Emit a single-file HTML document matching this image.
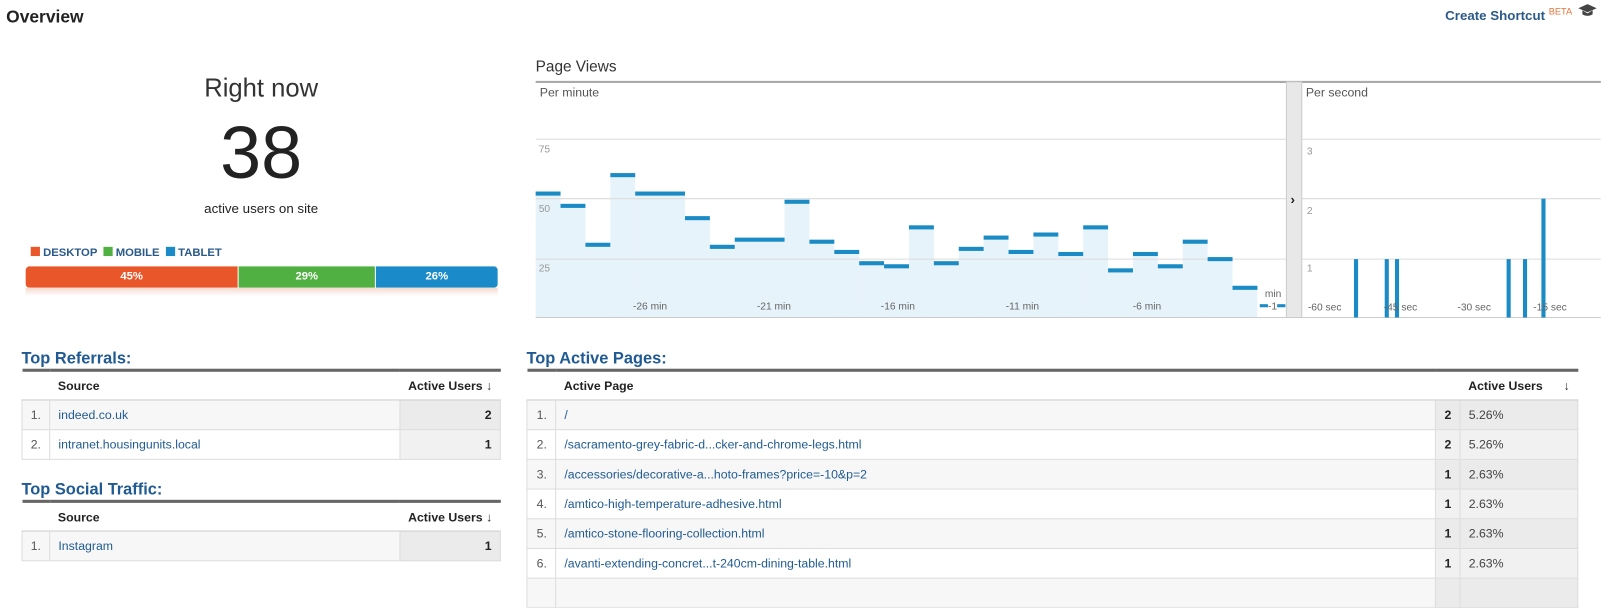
<!DOCTYPE html>
<html><head><meta charset="utf-8"><style>
body{margin:0;width:1606px;height:583px;background:#fff;font-family:"Liberation Sans",Arial,sans-serif;position:relative;overflow:hidden;color:#222}
#w{position:absolute;left:0;top:0;width:1568px;height:570px;transform:scale(1.0242);transform-origin:0 0}
.a{position:absolute;white-space:nowrap}
.h{color:#1f5a92;font-weight:bold;font-size:16px}
table{position:absolute;border-collapse:collapse;font-size:12px;border-top:3px solid #666}
td{height:28px;border:1px solid #ddd;padding:0 8px}
th{height:27px;text-align:left;font-weight:bold;padding:0 8px;border-bottom:1px solid #ccc;white-space:nowrap}
.l{color:#1f5a92}
.g{background:#ebebeb}
.r{text-align:right}
</style></head><body><div id="w">
<div class="a" style="left:6px;top:7px;font-size:17px;font-weight:bold">Overview</div>
<div class="a" style="left:1411px;top:6px;font-size:13px;font-weight:bold;color:#2a5a8a">Create Shortcut <sup style="color:#e8743b;font-size:9px;font-weight:normal">BETA</sup></div>
<svg class="a" style="left:1540px;top:3px" width="20" height="14"><polygon points="1,5 10,1 19,5 10,9" fill="#444"/><path d="M5,7 L5,11 Q10,14 15,11 L15,7 L10,10 Z" fill="#444"/></svg>
<div class="a" style="left:155px;top:72px;width:200px;text-align:center;font-size:25px;color:#333">Right now</div>
<div class="a" style="left:155px;top:108px;width:200px;text-align:center;font-size:72px;color:#222;line-height:84px">38</div>
<div class="a" style="left:155px;top:196px;width:200px;text-align:center;font-size:13px">active users on site</div>
<div class="a" style="left:30px;top:241px;font-size:11px;font-weight:bold;color:#2a5a8a"><span style="display:inline-block;width:9px;height:9px;background:#e8562a"></span> DESKTOP &nbsp;<span style="display:inline-block;width:9px;height:9px;background:#50b041"></span> MOBILE &nbsp;<span style="display:inline-block;width:9px;height:9px;background:#1a8bc8"></span> TABLET</div>
<div class="a" style="left:25px;top:260px;width:461px;height:21px;border-radius:4px;overflow:hidden;font-size:11px;font-weight:bold;color:#fff;line-height:21px;text-align:center">
<div style="position:absolute;left:0;width:207px;height:21px;background:#e8562a">45%</div>
<div style="position:absolute;left:208px;width:133px;height:21px;background:#50b041">29%</div>
<div style="position:absolute;left:342px;width:119px;height:21px;background:#1a8bc8">26%</div></div>
<div class="a" style="left:25px;top:281px;width:461px;height:8px;background:linear-gradient(#f6d9cf,#fff)"></div>

<div class="a" style="left:523px;top:57px;font-size:15px;color:#333">Page Views</div>
<svg class="a" style="left:0;top:0" width="1568" height="320">
<line x1="523" y1="80" x2="1563" y2="80" stroke="#aaa" stroke-width="2"/>
<g fill="#e6f3fa">
<rect x="523" y="189" width="24.3" height="121"/><rect x="547.3" y="201" width="24.3" height="109"/><rect x="571.6" y="239" width="24.3" height="71"/><rect x="595.9" y="171" width="24.3" height="139"/><rect x="620.2" y="189" width="48.6" height="121"/><rect x="668.8" y="213" width="24.3" height="97"/><rect x="693.1" y="241" width="24.3" height="69"/><rect x="717.4" y="234" width="48.6" height="76"/><rect x="766" y="197" width="24.3" height="113"/><rect x="790.3" y="236" width="24.3" height="74"/><rect x="814.6" y="246" width="24.3" height="64"/><rect x="838.9" y="257" width="24.3" height="53"/><rect x="863.2" y="260" width="24.3" height="50"/><rect x="887.5" y="222" width="24.3" height="88"/><rect x="911.8" y="257" width="24.3" height="53"/><rect x="936.1" y="243" width="24.3" height="67"/><rect x="960.4" y="232" width="24.3" height="78"/><rect x="984.7" y="246" width="24.3" height="64"/><rect x="1009" y="229" width="24.3" height="81"/><rect x="1033.3" y="248" width="24.3" height="62"/><rect x="1057.6" y="222" width="24.3" height="88"/><rect x="1081.9" y="264" width="24.3" height="46"/><rect x="1106.2" y="248" width="24.3" height="62"/><rect x="1130.5" y="260" width="24.3" height="50"/><rect x="1154.8" y="236" width="24.3" height="74"/><rect x="1179.1" y="253" width="24.3" height="57"/><rect x="1203.4" y="281" width="24.3" height="29"/>
</g>
<g stroke="#dcdcdc"><line x1="523" y1="136" x2="1256" y2="136"/><line x1="523" y1="194" x2="1256" y2="194"/><line x1="523" y1="253" x2="1256" y2="253"/>
<line x1="1271" y1="136" x2="1563" y2="136"/><line x1="1271" y1="194" x2="1563" y2="194"/><line x1="1271" y1="253" x2="1563" y2="253"/></g>
<line x1="523" y1="310" x2="1563" y2="310" stroke="#ccc"/>
<rect x="1256" y="80" width="15" height="230" fill="#e8e8e8" stroke="#ccc"/>
<text x="1260" y="199" font-size="13" font-weight="bold" fill="#222" font-family="Liberation Sans">›</text>
<g font-family="Liberation Sans" font-size="10" fill="#999"><text x="526" y="149">75</text><text x="526" y="207">50</text><text x="526" y="265">25</text>
<text x="1276" y="151">3</text><text x="1276" y="209">2</text><text x="1276" y="265">1</text></g>
<text x="527" y="94" font-family="Liberation Sans" font-size="12" fill="#555">Per minute</text>
<text x="1275" y="94" font-family="Liberation Sans" font-size="12" fill="#555">Per second</text>
<g fill="#1a8bc5">
<rect x="523" y="187" width="24.3" height="4"/><rect x="547.3" y="199" width="24.3" height="4"/><rect x="571.6" y="237" width="24.3" height="4"/><rect x="595.9" y="169" width="24.3" height="4"/><rect x="620.2" y="187" width="48.6" height="4"/><rect x="668.8" y="211" width="24.3" height="4"/><rect x="693.1" y="239" width="24.3" height="4"/><rect x="717.4" y="232" width="48.6" height="4"/><rect x="766" y="195" width="24.3" height="4"/><rect x="790.3" y="234" width="24.3" height="4"/><rect x="814.6" y="244" width="24.3" height="4"/><rect x="838.9" y="255" width="24.3" height="4"/><rect x="863.2" y="258" width="24.3" height="4"/><rect x="887.5" y="220" width="24.3" height="4"/><rect x="911.8" y="255" width="24.3" height="4"/><rect x="936.1" y="241" width="24.3" height="4"/><rect x="960.4" y="230" width="24.3" height="4"/><rect x="984.7" y="244" width="24.3" height="4"/><rect x="1009" y="227" width="24.3" height="4"/><rect x="1033.3" y="246" width="24.3" height="4"/><rect x="1057.6" y="220" width="24.3" height="4"/><rect x="1081.9" y="262" width="24.3" height="4"/><rect x="1106.2" y="246" width="24.3" height="4"/><rect x="1130.5" y="258" width="24.3" height="4"/><rect x="1154.8" y="234" width="24.3" height="4"/><rect x="1179.1" y="251" width="24.3" height="4"/><rect x="1203.4" y="279" width="24.3" height="4"/>
<rect x="1230" y="297" width="8" height="3"/><rect x="1247" y="297" width="8" height="3"/>
<rect x="1322" y="253" width="4" height="57"/><rect x="1352" y="253" width="4" height="57"/><rect x="1362" y="253" width="4" height="57"/><rect x="1471" y="253" width="4" height="57"/><rect x="1487" y="253" width="4" height="57"/><rect x="1505" y="194" width="4" height="116"/>
</g>
<g font-family="Liberation Sans" font-size="10" fill="#666">
<text x="618" y="302">-26 min</text><text x="739" y="302">-21 min</text><text x="860" y="302">-16 min</text><text x="982" y="302">-11 min</text><text x="1106" y="302">-6 min</text><text x="1235" y="290">min</text><text x="1238" y="302">-1</text>
<text x="1277" y="303">-60 sec</text><text x="1351" y="303">-45 sec</text><text x="1423" y="303">-30 sec</text><text x="1497" y="303">-15 sec</text></g>
</svg>

<div class="a h" style="left:21px;top:342px">Top Referrals:</div>
<table style="left:21px;top:360px;width:468px">
<tr><th style="width:8px"></th><th>Source</th><th class="r" style="width:76px">Active Users &#8595;</th></tr>
<tr style="background:#f7f7f7"><td class="r" style="width:8px;color:#555">1.</td><td class="l">indeed.co.uk</td><td class="r g"><b>2</b></td></tr>
<tr><td class="r" style="color:#555">2.</td><td class="l">intranet.housingunits.local</td><td class="r" style="background:#f1f1f1"><b>1</b></td></tr>
</table>
<div class="a h" style="left:21px;top:470px">Top Social Traffic:</div>
<table style="left:21px;top:488px;width:468px">
<tr><th style="width:8px"></th><th>Source</th><th class="r" style="width:76px">Active Users &#8595;</th></tr>
<tr style="background:#f7f7f7"><td class="r" style="width:8px;color:#555">1.</td><td class="l">Instagram</td><td class="r g"><b>1</b></td></tr>
</table>

<div class="a h" style="left:514px;top:342px">Top Active Pages:</div>
<table style="left:514px;top:360px;width:1027px">
<tr><th style="width:12px"></th><th>Active Page</th><th style="width:8px"></th><th style="width:99px">Active Users <span style="float:right;font-weight:normal">&#8595;</span></th></tr>
<tr style="background:#f7f7f7"><td class="r" style="color:#555">1.</td><td class="l">/</td><td class="r g"><b>2</b></td><td class="g" style="color:#444">5.26%</td></tr>
<tr><td class="r" style="color:#555">2.</td><td class="l">/sacramento-grey-fabric-d...cker-and-chrome-legs.html</td><td class="r" style="background:#f1f1f1"><b>2</b></td><td style="background:#f1f1f1;color:#444">5.26%</td></tr>
<tr style="background:#f7f7f7"><td class="r" style="color:#555">3.</td><td class="l">/accessories/decorative-a...hoto-frames?price=-10&amp;p=2</td><td class="r g"><b>1</b></td><td class="g" style="color:#444">2.63%</td></tr>
<tr><td class="r" style="color:#555">4.</td><td class="l">/amtico-high-temperature-adhesive.html</td><td class="r" style="background:#f1f1f1"><b>1</b></td><td style="background:#f1f1f1;color:#444">2.63%</td></tr>
<tr style="background:#f7f7f7"><td class="r" style="color:#555">5.</td><td class="l">/amtico-stone-flooring-collection.html</td><td class="r g"><b>1</b></td><td class="g" style="color:#444">2.63%</td></tr>
<tr><td class="r" style="color:#555">6.</td><td class="l">/avanti-extending-concret...t-240cm-dining-table.html</td><td class="r" style="background:#f1f1f1"><b>1</b></td><td style="background:#f1f1f1;color:#444">2.63%</td></tr>
<tr style="background:#f7f7f7"><td></td><td></td><td class="g"></td><td class="g"></td></tr>
</table>
</div></body></html>
